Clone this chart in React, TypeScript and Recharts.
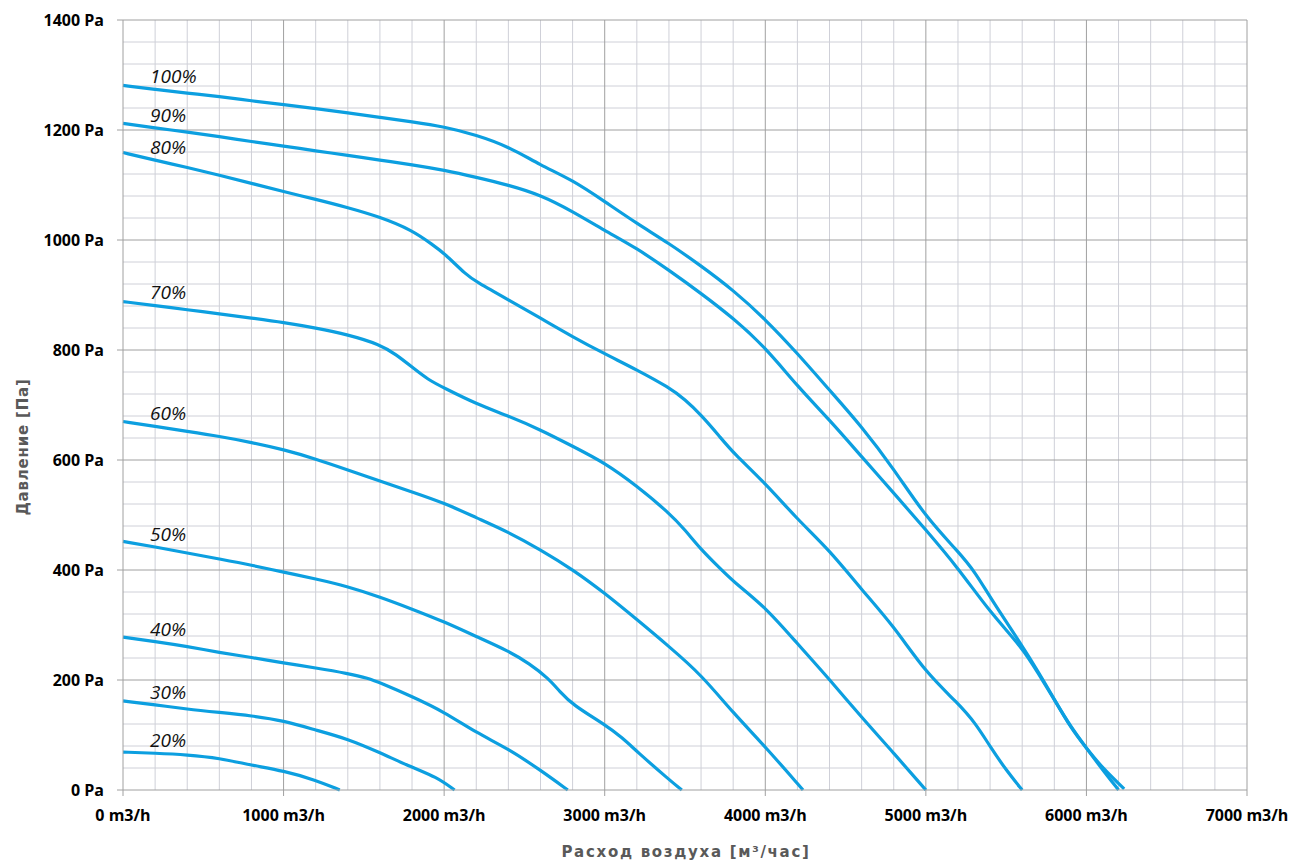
import React from "react";
import { LineChart, Line, XAxis, YAxis, ReferenceLine, Label } from "recharts";

// Fan curves: airflow (m3/h) vs static pressure (Pa) at each speed setting
const speedLabels = ["100%", "90%", "80%", "70%", "60%", "50%", "40%", "30%", "20%"];

const airflow100 = [0, 200, 400, 600, 800, 1000, 1200, 1400, 1600, 1800, 2000, 2200, 2400, 2600, 2800, 3000, 3200, 3400, 3600, 3800, 4000, 4200, 4400, 4600, 4800, 5000, 5200, 5310, 5400, 5600, 5700, 5800, 5900, 6000, 6100, 6235];
const pressure100 = [1281, 1274, 1267, 1261, 1253, 1246, 1239, 1231, 1223, 1215, 1206, 1191, 1170, 1136, 1109, 1070, 1030, 994, 953, 909, 856, 794, 727, 661, 584, 496, 434, 395, 350, 262, 215, 165, 114, 76, 40, 2];

const airflow90 = [0, 200, 400, 600, 800, 1000, 1200, 1400, 1600, 1800, 2000, 2200, 2400, 2600, 2800, 3000, 3200, 3400, 3600, 3800, 4000, 4200, 4400, 4600, 4800, 5000, 5200, 5400, 5600, 5700, 5800, 5900, 6000, 6100, 6200];
const pressure90 = [1212, 1204, 1196, 1188, 1179, 1171, 1162, 1154, 1145, 1137, 1127, 1114, 1100, 1082, 1052, 1017, 985, 945, 903, 858, 805, 734, 673, 606, 540, 473, 404, 323, 259, 212, 164, 116, 76, 37, 0];

const airflow80 = [0, 200, 400, 600, 800, 1000, 1200, 1400, 1600, 1800, 1930, 2000, 2140, 2200, 2400, 2600, 2800, 3000, 3200, 3400, 3500, 3600, 3715, 3800, 4000, 4200, 4400, 4600, 4800, 5000, 5200, 5310, 5400, 5500, 5600];
const pressure80 = [1159, 1145, 1132, 1118, 1103, 1088, 1074, 1059, 1042, 1018, 991, 976, 936, 924, 891, 858, 824, 793, 764, 732, 710, 682, 643, 613, 558, 492, 436, 364, 298, 213, 158, 121, 79, 36, 0];

const airflow70 = [0, 200, 400, 600, 800, 1000, 1200, 1400, 1600, 1700, 1800, 1900, 2000, 2200, 2400, 2600, 2800, 3000, 3200, 3400, 3500, 3600, 3715, 3800, 4000, 4200, 4400, 4600, 4800, 5000];
const pressure70 = [888, 881, 873, 866, 858, 850, 840, 828, 810, 792, 769, 746, 731, 702, 680, 655, 625, 595, 553, 504, 473, 437, 404, 379, 333, 266, 201, 132, 67, 0];

const airflow60 = [0, 200, 400, 600, 800, 1000, 1200, 1400, 1600, 1800, 2000, 2200, 2400, 2600, 2800, 3000, 3200, 3400, 3600, 3800, 4000, 4235];
const pressure60 = [670, 661, 652, 643, 632, 619, 602, 582, 562, 542, 522, 495, 469, 437, 401, 358, 310, 261, 210, 140, 79, 0];

const airflow50 = [0, 200, 400, 600, 800, 1000, 1200, 1400, 1600, 1800, 2000, 2200, 2400, 2530, 2650, 2720, 2800, 3000, 3110, 3200, 3400, 3480];
const pressure50 = [452, 442, 431, 420, 409, 396, 384, 370, 351, 329, 306, 279, 253, 230, 203, 179, 155, 119, 95, 70, 19, 0];

const airflow40 = [0, 200, 400, 600, 800, 1000, 1200, 1400, 1530, 1600, 1800, 2000, 2200, 2400, 2600, 2770];
const pressure40 = [278, 270, 261, 250, 241, 231, 222, 212, 203, 195, 170, 142, 104, 75, 36, 0];

const airflow30 = [0, 200, 400, 600, 800, 1000, 1200, 1400, 1600, 1800, 1950, 2065];
const pressure30 = [162, 155, 147, 141, 135, 126, 109, 93, 68, 41, 24, 0];

const airflow20 = [0, 200, 400, 600, 800, 1000, 1200, 1350];
const pressure20 = [69, 67, 64, 58, 45, 35, 18, 0];

// Axis ticks and grid positions
const xTicks = [0, 1000, 2000, 3000, 4000, 5000, 6000, 7000];
const yTicks = [0, 200, 400, 600, 800, 1000, 1200, 1400];
const xMinor = [200, 400, 600, 800, 1200, 1400, 1600, 1800, 2200, 2400, 2600, 2800, 3200, 3400, 3600, 3800, 4200, 4400, 4600, 4800, 5200, 5400, 5600, 5800, 6200, 6400, 6600, 6800];
const yMinor = [40, 80, 120, 160, 240, 280, 320, 360, 440, 480, 520, 560, 640, 680, 720, 760, 840, 880, 920, 960, 1040, 1080, 1120, 1160, 1240, 1280, 1320, 1360];

const curveAirflow = [airflow100, airflow90, airflow80, airflow70, airflow60, airflow50, airflow40, airflow30, airflow20];
const curvePressure = [pressure100, pressure90, pressure80, pressure70, pressure60, pressure50, pressure40, pressure30, pressure20];

const series = speedLabels.map((name, s) => ({
  name,
  data: curveAirflow[s].map((q, i) => ({ q, p: curvePressure[s][i] })),
}));

const LINE_COLOR = "#0c9fe0";
const MINOR = "#cfd0d8";
const MAJOR = "#a0a0a0";
const TICK_FONT = "'Open Sans', sans-serif";
const TITLE_FONT = "'DejaVu Sans', Verdana, sans-serif";

const makeSpeedLabel = (text: string) => (props: any) => {
  const { x, y, index } = props;
  if (index !== 1) return null;
  return (
    <text
      x={x - 5}
      y={y - 6}
      fontFamily={TICK_FONT}
      fontStyle="italic"
      fontSize={19}
      fill="#111"
    >
      {text}
    </text>
  );
};

const YTitle = () => {
  const cx = 14.5;
  const cy = 439;
  return (
    <text
      x={cx}
      y={cy}
      transform={`rotate(-90, ${cx}, ${cy})`}
      textAnchor="middle"
      dominantBaseline="central"
      fontFamily={TITLE_FONT}
      fontWeight="bold"
      fontSize={15}
      letterSpacing={0.8}
      fill="#595959"
    >
      Давление [Па]
    </text>
  );
};

const XTitle = () => (
  <text
    x={678}
    y={844}
    textAnchor="middle"
    dominantBaseline="central"
    fontFamily={TITLE_FONT}
    fontWeight="bold"
    fontSize={15}
    letterSpacing={1.7}
    fill="#595959"
  >
    Расход воздуха [м³/час]
  </text>
);

export default function App() {
  return (
    <div
      style={{
        width: 1291,
        height: 861,
        paddingLeft: 8,
        paddingTop: 8,
        boxSizing: "border-box",
        background: "#fff",
      }}
    >
      <style>{`body { margin: 0; }`}</style>
      <LineChart
        width={1283}
        height={853}
        margin={{ top: 12, right: 44, left: 0, bottom: 0 }}
      >
        <XAxis
          type="number"
          dataKey="q"
          domain={[0, 7000]}
          ticks={xTicks}
          interval={0}
          tickFormatter={(v: number) => `${v} m3/h`}
          tick={{ fill: "#000", fontFamily: TICK_FONT, fontWeight: 700, fontSize: 16 }}
          tickSize={6}
          tickMargin={14}
          stroke={MAJOR}
          height={71}
          allowDecimals={false}
        >
          <Label content={XTitle} />
        </XAxis>
        <YAxis
          type="number"
          domain={[0, 1400]}
          ticks={yTicks}
          interval={0}
          tickFormatter={(v: number) => `${v} Pa`}
          tick={{ fill: "#000", fontFamily: TICK_FONT, fontWeight: 700, fontSize: 16 }}
          tickSize={6}
          tickMargin={13}
          stroke={MAJOR}
          width={115}
        >
          <Label content={YTitle} />
        </YAxis>
        {xMinor.map((v) => (
          <ReferenceLine key={`xm${v}`} x={v} stroke={MINOR} strokeWidth={1} />
        ))}
        {yMinor.map((v) => (
          <ReferenceLine key={`ym${v}`} y={v} stroke={MINOR} strokeWidth={1} />
        ))}
        {xTicks.slice(1).map((v) => (
          <ReferenceLine key={`xM${v}`} x={v} stroke={MAJOR} strokeWidth={1} />
        ))}
        {yTicks.slice(1).map((v) => (
          <ReferenceLine key={`yM${v}`} y={v} stroke={MAJOR} strokeWidth={1} />
        ))}
        {series.map((s) => (
          <Line
            key={s.name}
            name={s.name}
            data={s.data}
            dataKey="p"
            type="basis"
            stroke={LINE_COLOR}
            strokeWidth={3.2}
            dot={false}
            activeDot={false}
            isAnimationActive={false}
            label={makeSpeedLabel(s.name)}
          />
        ))}
      </LineChart>
    </div>
  );
}
